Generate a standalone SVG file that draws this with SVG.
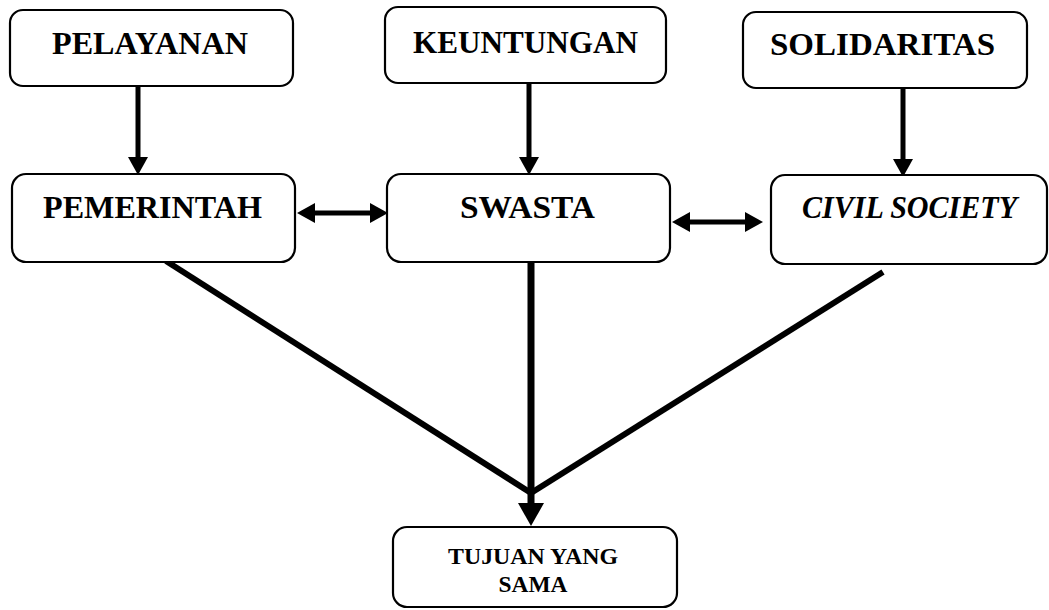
<svg xmlns="http://www.w3.org/2000/svg" width="1049" height="610" viewBox="0 0 1049 610">
<style>
.box{fill:#fff;stroke:#000;stroke-width:2.2}
.t{font-family:"Liberation Serif","Times New Roman",serif;font-weight:bold;font-size:31px;fill:#000;text-anchor:middle}
.s{font-size:23px}
.i{font-style:italic}
.c{stroke:#000;fill:none}
</style>
<defs>
<marker id="ah" markerUnits="userSpaceOnUse" viewBox="0 0 18 20" refX="1" refY="10" markerWidth="18" markerHeight="20" orient="auto-start-reverse">
<path d="M0,0 L18,10 L0,20 z" fill="#000"/>
</marker>
<marker id="ahb" markerUnits="userSpaceOnUse" viewBox="0 0 23 26" refX="1" refY="13" markerWidth="23" markerHeight="26" orient="auto">
<path d="M0,0 L23,13 L0,26 z" fill="#000"/>
</marker>
</defs>
<g id="connectors">
<line class="c" x1="138" y1="86" x2="138" y2="158" stroke-width="5" marker-end="url(#ah)"/>
<line class="c" x1="529" y1="83" x2="529" y2="158" stroke-width="5" marker-end="url(#ah)"/>
<line class="c" x1="903" y1="88" x2="903" y2="160" stroke-width="5" marker-end="url(#ah)"/>
<line class="c" x1="314" y1="213" x2="371" y2="213" stroke-width="5" marker-start="url(#ah)" marker-end="url(#ah)"/>
<line class="c" x1="689" y1="222" x2="746" y2="222" stroke-width="5" marker-start="url(#ah)" marker-end="url(#ah)"/>
<line class="c" x1="166" y1="261" x2="531" y2="493" stroke-width="6"/>
<line class="c" x1="883" y1="272" x2="531" y2="493" stroke-width="6"/>
<line class="c" x1="531" y1="262" x2="531" y2="504" stroke-width="7" marker-end="url(#ahb)"/>
</g>
<g id="pelayanan">
<rect class="box" x="10" y="10" width="283" height="76" rx="13"/>
<text class="t" x="150" y="54" textLength="196" lengthAdjust="spacingAndGlyphs">PELAYANAN</text>
</g>
<g id="keuntungan">
<rect class="box" x="385" y="7" width="281" height="76" rx="13"/>
<text class="t" x="525.5" y="53" textLength="225" lengthAdjust="spacingAndGlyphs">KEUNTUNGAN</text>
</g>
<g id="solidaritas">
<rect class="box" x="743" y="12" width="284" height="76" rx="13"/>
<text class="t" x="882.5" y="55" textLength="225" lengthAdjust="spacingAndGlyphs">SOLIDARITAS</text>
</g>
<g id="pemerintah">
<rect class="box" x="12" y="174" width="283" height="88" rx="14"/>
<text class="t" x="152.5" y="218" textLength="219" lengthAdjust="spacingAndGlyphs">PEMERINTAH</text>
</g>
<g id="swasta">
<rect class="box" x="387" y="174" width="283" height="88" rx="14"/>
<text class="t" x="527.5" y="218" textLength="135" lengthAdjust="spacingAndGlyphs">SWASTA</text>
</g>
<g id="civil-society">
<rect class="box" x="771" y="175" width="276" height="89" rx="14"/>
<text class="t i" x="909.5" y="218" textLength="215" lengthAdjust="spacingAndGlyphs">CIVIL SOCIETY</text>
</g>
<g id="tujuan">
<rect class="box" x="393" y="527" width="284" height="80" rx="14"/>
<text class="t s" x="533" y="564" textLength="170" lengthAdjust="spacingAndGlyphs">TUJUAN YANG</text>
<text class="t s" x="533" y="592" textLength="69" lengthAdjust="spacingAndGlyphs">SAMA</text>
</g>
</svg>
